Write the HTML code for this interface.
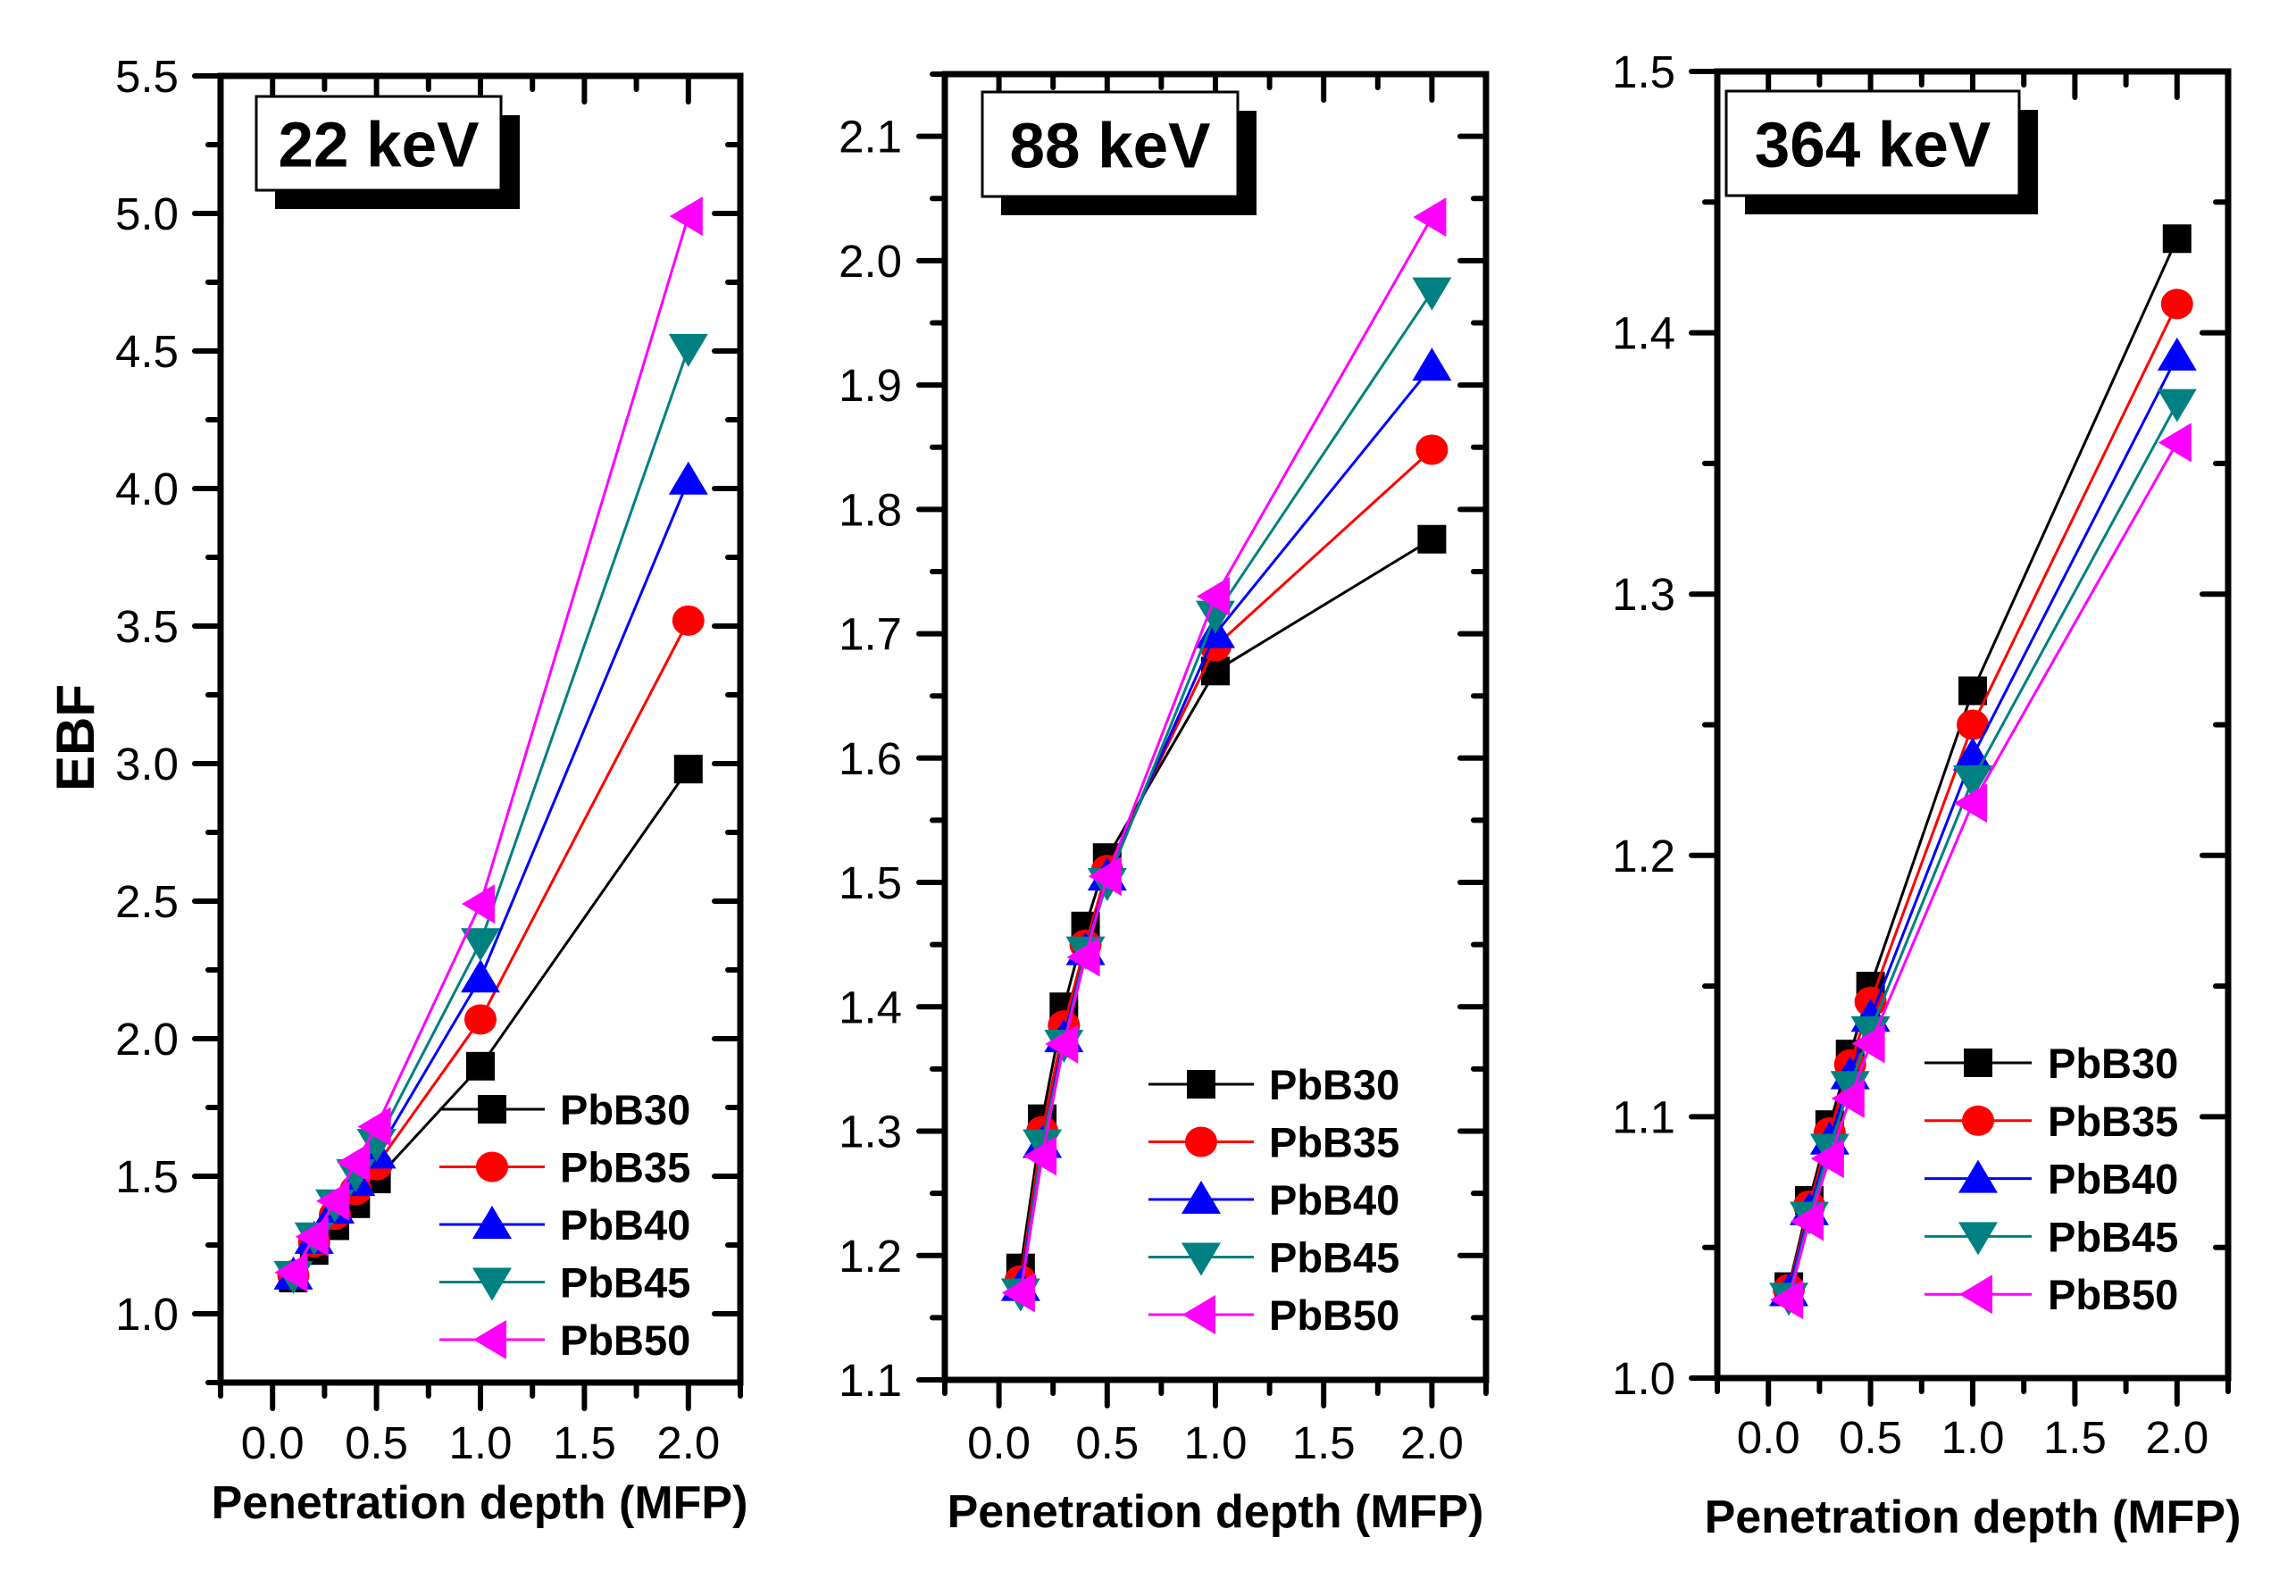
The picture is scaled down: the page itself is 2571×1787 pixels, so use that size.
<!DOCTYPE html>
<html><head><meta charset="utf-8"><style>
html,body{margin:0;padding:0;background:#fff;}
svg{display:block;}
text{font-family:"Liberation Sans",Arial,sans-serif;}
</style></head><body>
<svg id="fig" width="2571" height="1787" viewBox="0 0 2571 1787" xmlns="http://www.w3.org/2000/svg">
<rect width="2571" height="1787" fill="#fff"/>
</svg>
<script>
// ---- data ----
const depths = [0.1, 0.2, 0.3, 0.4, 0.5, 1.0, 2.0];
const seriesNames = ["PbB30", "PbB35", "PbB40", "PbB45", "PbB50"];
const xTickLabels = ["0.0", "0.5", "1.0", "1.5", "2.0"];
const xTickValues = [0, 0.5, 1.0, 1.5, 2.0];

const ebf22_PbB30 = [1.13, 1.23, 1.32, 1.40, 1.49, 1.90, 2.98];
const ebf22_PbB35 = [1.14, 1.26, 1.36, 1.45, 1.54, 2.07, 3.52];
const ebf22_PbB40 = [1.14, 1.27, 1.38, 1.48, 1.58, 2.22, 4.03];
const ebf22_PbB45 = [1.14, 1.28, 1.40, 1.51, 1.62, 2.35, 4.51];
const ebf22_PbB50 = [1.15, 1.28, 1.41, 1.55, 1.68, 2.49, 4.99];
const yTicks22 = ["1.0", "1.5", "2.0", "2.5", "3.0", "3.5", "4.0", "4.5", "5.0", "5.5"];

const ebf88_PbB30 = [1.19, 1.31, 1.40, 1.465, 1.52, 1.67, 1.776];
const ebf88_PbB35 = [1.18, 1.30, 1.385, 1.45, 1.51, 1.69, 1.848];
const ebf88_PbB40 = [1.175, 1.29, 1.375, 1.445, 1.505, 1.70, 1.915];
const ebf88_PbB45 = [1.17, 1.29, 1.37, 1.445, 1.50, 1.715, 1.975];
const ebf88_PbB50 = [1.17, 1.28, 1.37, 1.44, 1.505, 1.73, 2.035];
const yTicks88 = ["1.1", "1.2", "1.3", "1.4", "1.5", "1.6", "1.7", "1.8", "1.9", "2.0", "2.1"];

const ebf364_PbB30 = [1.035, 1.068, 1.097, 1.124, 1.150, 1.263, 1.436];
const ebf364_PbB35 = [1.034, 1.066, 1.094, 1.120, 1.144, 1.250, 1.411];
const ebf364_PbB40 = [1.033, 1.064, 1.091, 1.116, 1.138, 1.238, 1.391];
const ebf364_PbB45 = [1.031, 1.062, 1.088, 1.112, 1.133, 1.229, 1.373];
const ebf364_PbB50 = [1.030, 1.060, 1.084, 1.107, 1.128, 1.220, 1.358];
const yTicks364 = ["1.0", "1.1", "1.2", "1.3", "1.4", "1.5"];

const colors = ["#000000", "#ff0000", "#0000ff", "#008080", "#ff00ff"];
const NS = "http://www.w3.org/2000/svg";
const svg = document.getElementById("fig");

function mk(tag, attrs, parent) {
  const e = document.createElementNS(NS, tag);
  for (const k in attrs) e.setAttribute(k, attrs[k]);
  (parent || svg).appendChild(e);
  return e;
}

function marker(g, kind, cx, cy, color) {
  let e;
  if (kind === 0) e = mk("rect", {x: cx - 16, y: cy - 16, width: 32, height: 32, fill: color}, g);
  else if (kind === 1) e = mk("ellipse", {cx: cx, cy: cy, rx: 18, ry: 17, fill: color}, g);
  else if (kind === 2) e = mk("polygon", {points: `${cx},${cy-21} ${cx+22},${cy+16} ${cx-22},${cy+16}`, fill: color}, g);
  else if (kind === 3) e = mk("polygon", {points: `${cx},${cy+21} ${cx+22},${cy-16} ${cx-22},${cy-16}`, fill: color}, g);
  else e = mk("polygon", {points: `${cx-21},${cy} ${cx+16},${cy-22} ${cx+16},${cy+22}`, fill: color}, g);
  
  
  return e;
}

function panel(cfg) {
  const g = mk("g", {});
  
  
  const L = cfg.left, R = cfg.right, T = cfg.top, B = cfg.bottom;
  const xs = v => L + (v - cfg.xmin) / (cfg.xmax - cfg.xmin) * (R - L);
  const ys = v => B - (v - cfg.ymin) / (cfg.ymax - cfg.ymin) * (B - T);
  const tk = {stroke: "#000", "stroke-width": 6, "stroke-linecap": "round"};

  // y ticks
  const yVals = cfg.yTicks.map(Number);
  const ystep = yVals[1] - yVals[0];
  for (let i = 0; i < yVals.length; i++) {
    const y = ys(yVals[i]);
    const t1 = mk("line", Object.assign({x1: L - 29, y1: y, x2: L, y2: y}, tk), g);
    
    
    mk("line", Object.assign({x1: R - 29, y1: y, x2: R, y2: y}, tk), g);
    const lb = mk("text", {x: cfg.ylabelX, y: y + 18, "font-size": 51, "text-anchor": "end"}, g);
    lb.textContent = cfg.yTicks[i];
    
    
  }
  for (let v = yVals[0] - ystep / 2; v < cfg.ymax + 1e-9; v += ystep) {
    if (v < cfg.ymin - 1e-9) continue;
    const y = ys(v);
    mk("line", Object.assign({x1: L - 14, y1: y, x2: L, y2: y}, tk), g);
    mk("line", Object.assign({x1: R - 14, y1: y, x2: R, y2: y}, tk), g);
  }
  // x ticks
  for (let i = 0; i < xTickValues.length; i++) {
    const x = xs(xTickValues[i]);
    mk("line", Object.assign({x1: x, y1: B, x2: x, y2: B + 29}, tk), g);
    mk("line", Object.assign({x1: x, y1: T, x2: x, y2: T + 29}, tk), g);
    const lb = mk("text", {x: x, y: cfg.xlabelY, "font-size": 51, "text-anchor": "middle"}, g);
    lb.textContent = xTickLabels[i];
    
    
  }
  for (let v = -0.25; v <= 2.25 + 1e-9; v += 0.5) {
    const x = xs(v);
    mk("line", Object.assign({x1: x, y1: B, x2: x, y2: B + 15}, tk), g);
    mk("line", Object.assign({x1: x, y1: T, x2: x, y2: T + 15}, tk), g);
  }
  // frame
  const fr = mk("rect", {x: L, y: T, width: R - L, height: B - T, fill: "none", stroke: "#000", "stroke-width": 7}, g);
  
  

  // label box
  const bx = cfg.box;
  const sh = mk("rect", {x: bx[0] + 21, y: bx[1] + 21, width: bx[2] - bx[0], height: bx[3] - bx[1], fill: "#000"}, g);
  
  
  const br = mk("rect", {x: bx[0], y: bx[1], width: bx[2] - bx[0], height: bx[3] - bx[1], fill: "#fff", stroke: "#000", "stroke-width": 3}, g);
  
  
  const bt = mk("text", {x: (bx[0] + bx[2]) / 2, y: (bx[1] + bx[3]) / 2 + 26, "font-size": 71, "font-weight": "bold", "text-anchor": "middle"}, g);
  bt.textContent = cfg.label;
  
  

  // series
  cfg.series.forEach((vals, s) => {
    const sg = mk("g", {}, g);
    
    
    const pts = depths.map((d, i) => xs(d) + "," + ys(vals[i])).join(" ");
    const pl = mk("polyline", {points: pts, fill: "none", stroke: colors[s], "stroke-width": 3}, sg);
    
    
    depths.forEach((d, i) => marker(sg, s, xs(d), ys(vals[i]), colors[s]));
  });

  // legend
  const lg = mk("g", {}, g);
  
  
  const le = cfg.legend;
  seriesNames.forEach((n, s) => {
    const y = le.y0 + s * le.dy;
    const eg = mk("g", {}, lg);
    
    
    mk("line", {x1: le.x1, y1: y, x2: le.x2, y2: y, stroke: colors[s], "stroke-width": 3}, eg);
    marker(eg, s, (le.x1 + le.x2) / 2, y, colors[s]);
    const t = mk("text", {x: le.tx, y: y + 17, "font-size": 47, "font-weight": "bold"}, eg);
    t.textContent = n;
  });

  // x title
  const xt = mk("text", {x: cfg.titleX, y: cfg.titleY, "font-size": 52, "font-weight": "bold", "text-anchor": "middle"}, g);
  xt.textContent = "Penetration depth (MFP)";
  
  
}

panel({name: "panel-22kev", label: "22 keV", left: 247, right: 829, top: 85, bottom: 1548,
  xmin: -0.25, xmax: 2.25, ymin: 0.75, ymax: 5.5, yTicks: yTicks22, ylabelX: 200, xlabelY: 1633,
  box: [287, 108, 561, 213], series: [ebf22_PbB30, ebf22_PbB35, ebf22_PbB40, ebf22_PbB45, ebf22_PbB50],
  legend: {x1: 492, x2: 610, tx: 627, y0: 1242, dy: 64.5}, titleX: 537, titleY: 1700});
panel({name: "panel-88kev", label: "88 keV", left: 1058, right: 1664, top: 83, bottom: 1545,
  xmin: -0.25, xmax: 2.25, ymin: 1.1, ymax: 2.15, yTicks: yTicks88, ylabelX: 1010, xlabelY: 1633,
  box: [1100, 103, 1386, 220], series: [ebf88_PbB30, ebf88_PbB35, ebf88_PbB40, ebf88_PbB45, ebf88_PbB50],
  legend: {x1: 1286, x2: 1404, tx: 1421, y0: 1214, dy: 64.5}, titleX: 1361, titleY: 1710});
panel({name: "panel-364kev", label: "364 keV", left: 1923, right: 2495, top: 80, bottom: 1543,
  xmin: -0.25, xmax: 2.25, ymin: 1.0, ymax: 1.5, yTicks: yTicks364, ylabelX: 1876, xlabelY: 1627,
  box: [1933, 102, 2261, 219], series: [ebf364_PbB30, ebf364_PbB35, ebf364_PbB40, ebf364_PbB45, ebf364_PbB50],
  legend: {x1: 2155, x2: 2275, tx: 2293, y0: 1190, dy: 64.8}, titleX: 2209, titleY: 1716});

const yt = mk("text", {x: 0, y: 0, "font-size": 60, "font-weight": "bold", "text-anchor": "middle", transform: "translate(105,826) rotate(-90)"});
yt.textContent = "EBF";


</script>
</body></html>
